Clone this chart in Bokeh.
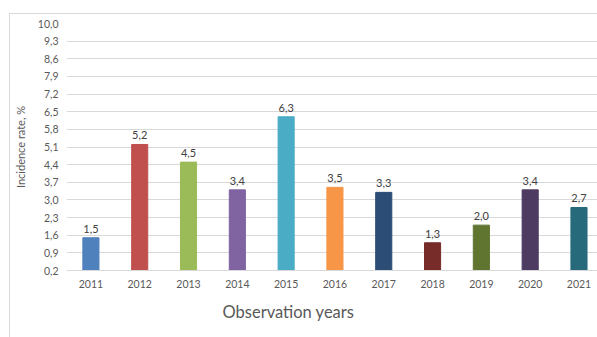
from bokeh.plotting import figure
from bokeh.models import (ColumnDataSource, FixedTicker, CustomJSTickFormatter,
                          Title, Range1d)
from bokeh.core.properties import value
from bokeh.embed import file_html
from bokeh.resources import INLINE

years = [2011, 2012, 2013, 2014, 2015, 2016, 2017, 2018, 2019, 2020, 2021]
rates = [1.5, 5.2, 4.5, 3.4, 6.3, 3.5, 3.3, 1.3, 2.0, 3.4, 2.7]
colors = ["#4F81BD", "#C0504D", "#9BBB59", "#8064A2", "#4BACC6", "#F79646",
          "#2C4D75", "#772C2A", "#5F7530", "#4D3B62", "#276A7C"]
y_ticks = [0.2, 0.9, 1.6, 2.3, 3.0, 3.7, 4.4, 5.1, 5.8, 6.5, 7.2, 7.9, 8.6, 9.3, 10.0]
x_title = "Observation years"
y_title = "Incidence rate, %"

FONT = "Lato"
TXT = "#595959"

labels = [f"{v:.1f}".replace(".", ",") for v in rates]
src = ColumnDataSource(dict(x=years, top=rates, color=colors, label=labels))

p = figure(width=588, height=324, output_backend="svg", toolbar_location=None,
           x_range=Range1d(2010.5, 2021.4), y_range=Range1d(y_ticks[0], y_ticks[-1]),
           min_border_left=20, min_border_right=0, min_border_top=9,
           min_border_bottom=67, margin=(13, 0, 0, 9))
p.styles = {"border-left": "1px solid #d9d9d9", "border-top": "1px solid #d9d9d9"}
p.outline_line_color = None
p.background_fill_color = "white"
p.border_fill_color = "white"

p.vbar(x="x", top="top", bottom=y_ticks[0], width=0.33, fill_color="color",
       line_color="color", source=src)
p.text(x="x", y="top", text="label", source=src, text_align="center",
       text_baseline="bottom", y_offset=-5, text_font=value(FONT),
       text_font_size="11px", text_color="#404040")

# axes
p.xaxis.ticker = FixedTicker(ticks=years)
p.xaxis.major_tick_line_color = None
p.xaxis.minor_tick_line_color = None
p.xaxis.major_tick_out = 0
p.xaxis.major_tick_in = 0
p.xaxis.axis_line_color = "#d9d9d9"
p.xaxis.major_label_standoff = 9
p.xaxis.major_label_text_font = FONT
p.xaxis.major_label_text_font_size = "10.5px"
p.xaxis.major_label_text_color = TXT

p.yaxis.ticker = FixedTicker(ticks=y_ticks)
p.yaxis.formatter = CustomJSTickFormatter(code="return tick.toFixed(1).replace('.', ',');")
p.yaxis.major_tick_line_color = None
p.yaxis.minor_tick_line_color = None
p.yaxis.major_tick_out = 0
p.yaxis.major_tick_in = 0
p.yaxis.axis_line_color = None
p.yaxis.major_label_standoff = 8
p.yaxis.major_label_text_font = FONT
p.yaxis.major_label_text_font_size = "10.5px"
p.yaxis.major_label_text_color = TXT
p.yaxis.axis_label = y_title
p.yaxis.axis_label_standoff = 8
p.yaxis.axis_label_text_font = FONT
p.yaxis.axis_label_text_font_size = "11px"
p.yaxis.axis_label_text_font_style = "normal"
p.yaxis.axis_label_text_color = TXT

p.xgrid.grid_line_color = None
p.ygrid.grid_line_color = "#d9d9d9"
p.ygrid.grid_line_width = 1

p.add_layout(Title(text=x_title, align="left", offset=156, standoff=19,
                   text_font=FONT, text_font_size="16.5px", text_font_style="normal",
                   text_color=TXT), "below")
# empty spacer title below the axis title
p.add_layout(Title(text=" ", text_font_size="4px", standoff=0), "below")

open("out.html", "w").write(file_html(p, INLINE))
